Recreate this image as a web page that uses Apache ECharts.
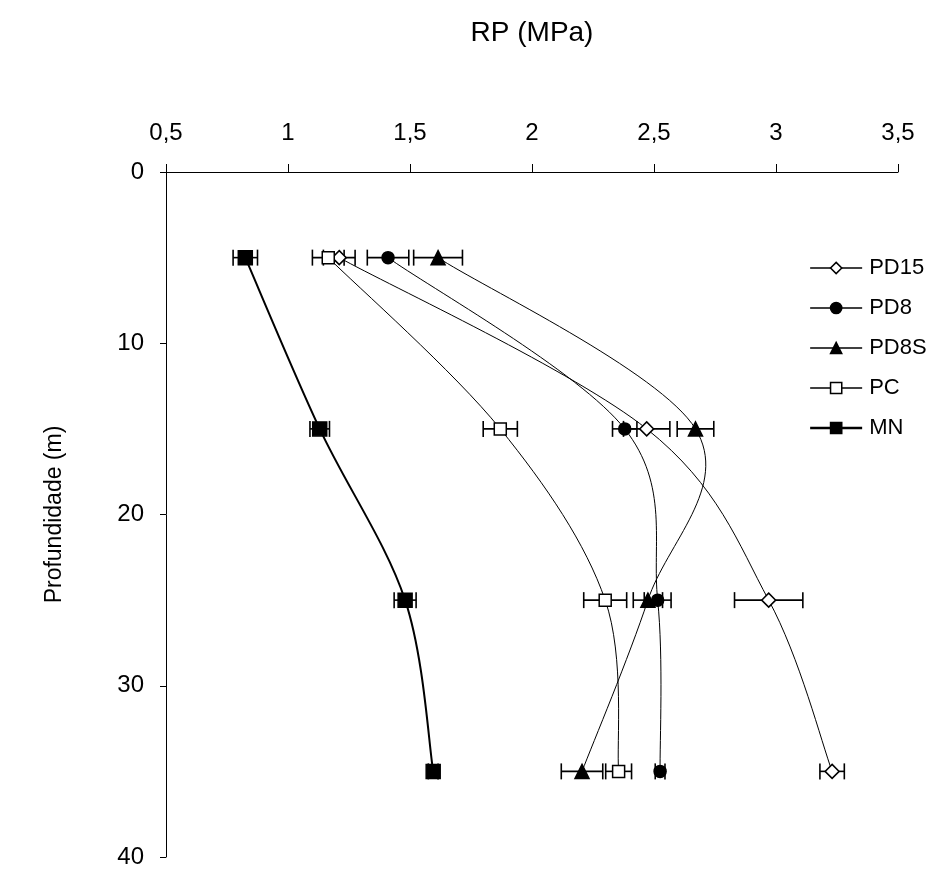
<!DOCTYPE html>
<html>
<head>
<meta charset="utf-8">
<script src="https://cdn.jsdelivr.net/npm/echarts@6/dist/echarts.min.js"></script>
<style>
html,body{margin:0;padding:0;background:#fff;}
#chart{width:932px;height:869px;}
</style>
</head>
<body>
<div id="chart"></div>
<script>
const depths = [5, 15, 25, 35];
const seriesNames = ['PD15', 'PD8', 'PD8S', 'PC', 'MN'];
const pd15 = [1.21, 2.47, 2.97, 3.23];
const pd15Err = [0.065, 0.095, 0.14, 0.05];
const pd8 = [1.41, 2.38, 2.515, 2.525];
const pd8Err = [0.085, 0.05, 0.055, 0.02];
const pd8s = [1.615, 2.67, 2.475, 2.205];
const pd8sErr = [0.1, 0.075, 0.06, 0.085];
const pc = [1.165, 1.87, 2.30, 2.355];
const pcErr = [0.065, 0.07, 0.088, 0.053];
const mn = [0.825, 1.13, 1.48, 1.595];
const mnErr = [0.05, 0.04, 0.045, 0.02];
const xTicks = [0.5, 1, 1.5, 2, 2.5, 3, 3.5];
const yTicks = [0, 10, 20, 30, 40];

const values = [pd15, pd8, pd8s, pc, mn];
const errs = [pd15Err, pd8Err, pd8sErr, pcErr, mnErr];
const styles = [
  {symbol: 'diamond', size: 14, fill: '#fff', width: 1},
  {symbol: 'circle', size: 12, fill: '#000', width: 1},
  {symbol: 'triangle', size: 14, fill: '#000', width: 1},
  {symbol: 'rect', size: 12, fill: '#fff', width: 1},
  {symbol: 'rect', size: 14, fill: '#000', width: 2}
];

const FONT = 'Liberation Sans, Arial, sans-serif';
const chart = echarts.init(document.getElementById('chart'));

const series = [];
// smoothed curves (Catmull-Rom through the data points, drawn via axis coords)
values.forEach((vals, si) => {
  const s = styles[si];
  series.push({
    type: 'custom',
    name: seriesNames[si] + '_curve',
    z: 2,
    silent: true,
    data: depths.slice(0, -1).map((d, i) => [vals[i], d, vals[i + 1], depths[i + 1]]),
    encode: {x: [0, 2], y: [1, 3]},
    renderItem: function (params, api) {
      const i = params.dataIndex;
      const n = depths.length;
      const P = j => api.coord([vals[Math.max(0, Math.min(n - 1, j))], depths[Math.max(0, Math.min(n - 1, j))]]);
      const p0 = P(i - 1), p1 = P(i), p2 = P(i + 1), p3 = P(i + 2);
      const k = 1 / 6;
      return {
        type: 'bezierCurve',
        shape: {
          x1: p1[0], y1: p1[1], x2: p2[0], y2: p2[1],
          cpx1: p1[0] + (p2[0] - p0[0]) * k, cpy1: p1[1] + (p2[1] - p0[1]) * k,
          cpx2: p2[0] - (p3[0] - p1[0]) * k, cpy2: p2[1] - (p3[1] - p1[1]) * k
        },
        style: {stroke: '#000', lineWidth: s.width, fill: null}
      };
    }
  });
});
// error bars
values.forEach((vals, si) => {
  series.push({
    type: 'custom',
    name: seriesNames[si] + '_err',
    z: 3,
    silent: true,
    data: depths.map((d, i) => [vals[i], d, errs[si][i]]),
    encode: {x: 0, y: 1},
    renderItem: function (params, api) {
      const x = api.value(0), y = api.value(1), e = api.value(2);
      const p1 = api.coord([x - e, y]);
      const p2 = api.coord([x + e, y]);
      const h = 8;
      const st = {stroke: '#000', lineWidth: 1.6};
      return {
        type: 'group',
        children: [
          {type: 'line', shape: {x1: p1[0], y1: p1[1], x2: p2[0], y2: p2[1]}, style: st},
          {type: 'line', shape: {x1: p1[0], y1: p1[1] - h, x2: p1[0], y2: p1[1] + h}, style: st},
          {type: 'line', shape: {x1: p2[0], y1: p2[1] - h, x2: p2[0], y2: p2[1] + h}, style: st}
        ]
      };
    }
  });
});
// markers (line itself hidden; curve drawn separately)
values.forEach((vals, si) => {
  const s = styles[si];
  series.push({
    type: 'line',
    name: seriesNames[si],
    z: 4,
    symbol: s.symbol,
    symbolSize: s.size,
    showAllSymbol: true,
    lineStyle: {color: '#000', width: s.width, opacity: 0},
    itemStyle: {color: s.fill, borderColor: '#000', borderWidth: 1.5},
    emphasis: {disabled: true},
    data: depths.map((d, i) => [vals[i], d])
  });
});

chart.setOption({
  animation: false,
  backgroundColor: '#fff',
  textStyle: {fontFamily: FONT},
  grid: {left: 166, right: 34, top: 172, bottom: 12},
  legend: {
    orient: 'vertical',
    left: 809,
    top: 257,
    padding: 0,
    itemWidth: 52,
    itemHeight: 14,
    itemGap: 18,
    data: seriesNames.map((n, i) => ({name: n, lineStyle: {opacity: 1, width: styles[i].width + 0.3, color: '#000'}})),
    lineStyle: {opacity: 1, color: '#000'},
    textStyle: {fontFamily: FONT, fontSize: 22, color: '#000', padding: [0, 0, 0, 2]},
    itemStyle: {borderWidth: 1.5}
  },
  xAxis: {
    type: 'value',
    position: 'top',
    min: 0.5,
    max: 3.5,
    interval: 0.5,
    name: 'RP (MPa)',
    nameLocation: 'middle',
    nameGap: 125,
    nameTextStyle: {fontFamily: FONT, fontSize: 28, color: '#000'},
    axisLine: {show: true, lineStyle: {color: '#000', width: 1}},
    axisTick: {show: true, inside: false, length: 8, lineStyle: {color: '#000'}},
    axisLabel: {
      fontFamily: FONT, fontSize: 24, color: '#000', margin: 27,
      formatter: v => String(v).replace('.', ',')
    },
    splitLine: {show: false}
  },
  yAxis: {
    type: 'value',
    inverse: true,
    min: 0,
    max: 40,
    interval: 10,
    name: 'Profundidade (m)',
    nameLocation: 'middle',
    nameGap: 100,
    nameRotate: 90,
    nameTextStyle: {fontFamily: FONT, fontSize: 23, color: '#000'},
    axisLine: {show: true, lineStyle: {color: '#000', width: 1}},
    axisTick: {show: true, length: 6, lineStyle: {color: '#000'}},
    axisLabel: {fontFamily: FONT, fontSize: 24, color: '#000', margin: 22},
    splitLine: {show: false}
  },
  series: series
});
</script>
</body>
</html>
